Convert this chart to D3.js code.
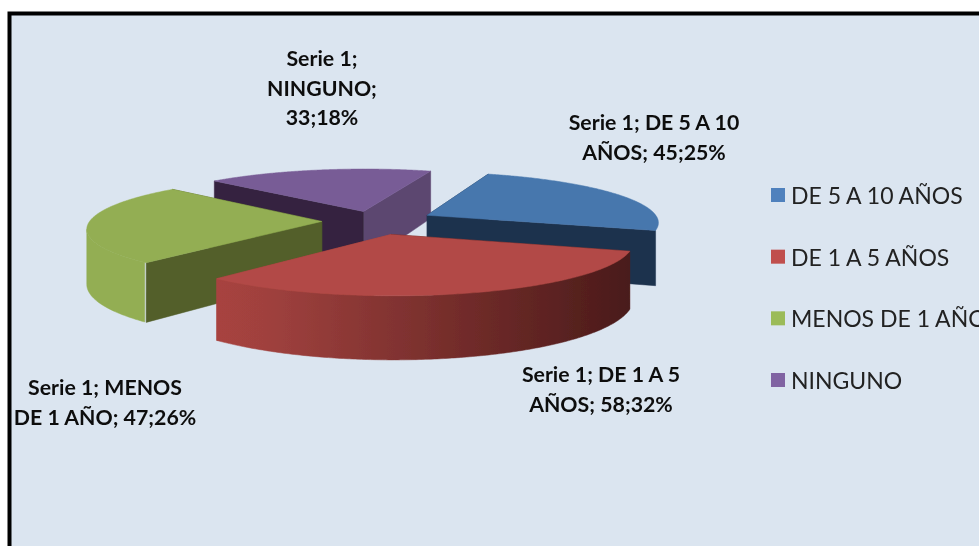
<!DOCTYPE html>
<html><head><meta charset="utf-8">
<script src="https://cdn.jsdelivr.net/npm/d3@7/dist/d3.min.js"></script>
<style>html,body{margin:0;padding:0;background:#fff;overflow:hidden}svg{display:block}</style>
</head><body><svg id="c" width="979" height="546"></svg>
<script>
const categories = ["DE 5 A 10 AÑOS", "DE 1 A 5 AÑOS", "MENOS DE 1 AÑO", "NINGUNO"];
const values = [45, 58, 47, 33];
const seriesName = "Serie 1";
const legendColors = ["#4f81bd", "#c0504d", "#9bbb59", "#8064a2"];
const topColors = ["#4777ad", "#b24a47", "#93ae52", "#785c96"];
const startWallColors = ["#1f334e", "#4b1c1b", "#525f2b", "#35243f"];
const endWallColors = ["#1f334e", "#a8433f", "#525f2b", "#5c4670"];
const outerWallColors = [null, "url(#redWall)", "#93ae52", null];
const explodeBy = [0.26, 0.27, 0.225, 0.2];
const labelBreaks = [[6], [6], [3], [2, 3]];
const labelPos = [[654, 123], [601, 375], [105, 388], [322, 59]];

const W = 979, H = 546;
const svg = d3.select("#c");
const font = "Lato, Carlito, 'Open Sans', sans-serif";
const defs = svg.append("defs");
const grad = defs.append("linearGradient").attr("id", "redWall").attr("gradientUnits", "userSpaceOnUse")
  .attr("x1", 215).attr("x2", 628).attr("y1", 0).attr("y2", 0);
[[0, "#a8433f"], [0.12, "#a0413e"], [0.55, "#772e2c"], [1, "#4a1b1a"]].forEach(s =>
  grad.append("stop").attr("offset", s[0]).attr("stop-color", s[1]));
defs.append("filter").attr("id", "soft").attr("x", "-5%").attr("y", "-5%").attr("width", "110%").attr("height", "110%")
  .append("feGaussianBlur").attr("stdDeviation", 0.45);

// frame
svg.append("rect").attr("x", 9.5).attr("y", 13.5).attr("width", W + 20).attr("height", H + 20)
  .attr("fill", "#dbe5f0").attr("stroke", "#000").attr("stroke-width", 4);

const root = svg.append("g").attr("filter", "url(#soft)");

// 3D pie: d3.pie angles, projected with perspective through linear scales
const total = d3.sum(values);
const deg = Math.PI / 180;
const pie = d3.pie().sort(null).startAngle(19 * deg).endAngle(379 * deg);
const arcs = pie(values);
const cx = 374, cy = 221, R = 232, ry = 50, persp = 0.125, depth = 54;
const sx = d3.scaleLinear().domain([0, 1]).range([cx, cx + R]);
const sy = d3.scaleLinear().domain([0, 1]).range([cy, cy - ry]);
const line = d3.line();

function project(px, py, low) {
  const w = 1 + persp * py;
  return [sx(px / w), sy(py / w) + (low ? depth / w : 0)];
}
function slice(a, e) {
  const m = (a.startAngle + a.endAngle) / 2;
  const ox = e * Math.sin(m), oy = e * Math.cos(m);
  const at = (t, low) => project(ox + Math.sin(t), oy + Math.cos(t), low);
  const ctr = low => project(ox, oy, low);
  const ts = d3.range(0, 181).map(i => a.startAngle + (a.endAngle - a.startAngle) * i / 180);
  return { at, ctr, ts };
}

[3, 0, 2, 1].forEach(i => {
  const a = arcs[i];
  const s = slice(a, explodeBy[i]);
  const g = root.append("g");
  const poly = (pts, fill) => g.append("path").attr("d", line(pts) + "Z").attr("fill", fill).attr("stroke", fill).attr("stroke-width", 0.5);
  poly([s.ctr(false), s.at(a.endAngle, false), s.at(a.endAngle, true), s.ctr(true)], endWallColors[i]);
  poly([s.ctr(false), s.at(a.startAngle, false), s.at(a.startAngle, true), s.ctr(true)], startWallColors[i]);
  // the outer wall is visible only while the rim runs leftward on screen
  const front = s.ts.filter((t, k) => k > 0 && s.at(t, false)[0] < s.at(s.ts[k - 1], false)[0]);
  if (outerWallColors[i] && front.length > 1) {
    poly(front.map(t => s.at(t, false)).concat(front.slice().reverse().map(t => s.at(t, true))), outerWallColors[i]);
  }
  poly([s.ctr(false)].concat(s.ts.map(t => s.at(t, false))), topColors[i]);
});

// data labels
const pct = d3.format(".0%");
categories.forEach((c, i) => {
  const words = `${seriesName}; ${c}; ${values[i]};${pct(values[i] / total)}`.split(" ");
  const cuts = [0, ...labelBreaks[i], words.length];
  d3.range(cuts.length - 1).forEach(j => {
    root.append("text").attr("x", labelPos[i][0]).attr("y", labelPos[i][1] + j * 29.5 + 7)
      .attr("text-anchor", "middle").attr("font-family", font).attr("font-weight", 700)
      .attr("font-size", 21.3).attr("fill", "#111")
      .text(words.slice(cuts[j], cuts[j + 1]).join(" "));
  });
});

// legend
const ly = d3.scalePoint().domain(categories).range([195, 380]);
categories.forEach((c, i) => {
  root.append("rect").attr("x", 771).attr("y", ly(c) - 7).attr("width", 14).attr("height", 14).attr("fill", legendColors[i]);
  root.append("text").attr("x", 791).attr("y", ly(c) + 9).attr("font-family", font)
    .attr("font-size", 23).attr("fill", "#222").text(c);
});
</script></body></html>
